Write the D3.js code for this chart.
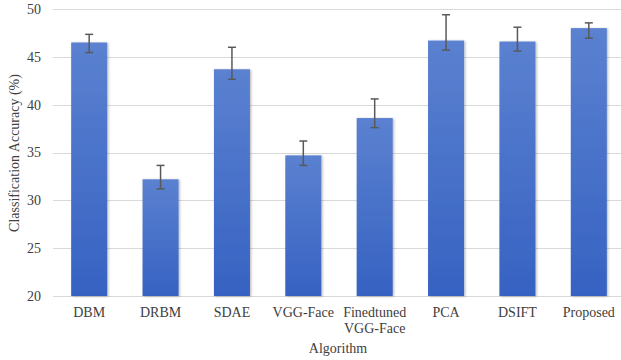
<!DOCTYPE html>
<html><head><meta charset="utf-8">
<script src="https://cdn.jsdelivr.net/npm/d3@7"></script>
<style>body{margin:0;background:#fff}svg{display:block}</style>
</head><body>
<svg id="c" width="621" height="360"></svg>
<script>
const categories = ["DBM","DRBM","SDAE","VGG-Face","Finedtuned\nVGG-Face","PCA","DSIFT","Proposed"];
const accuracy   = [46.5, 32.2, 43.7, 34.7, 38.6, 46.7, 46.6, 48.0];
const errPlus    = [0.85, 1.45, 2.3, 1.5, 2.0, 2.7, 1.5, 0.55];
const errMinus   = [1.05, 1.0, 1.05, 1.05, 1.0, 1.0, 1.0, 1.05];
const yTicks     = [20, 25, 30, 35, 40, 45, 50];
const xTitle = "Algorithm";
const yTitle = "Classification Accuracy (%)";

const svg = d3.select("#c");
const font = "'Liberation Serif', 'Times New Roman', serif";
const x = d3.scaleBand().domain(categories).range([53.5, 624.5]).paddingInner(0.495).paddingOuter(0.2475);
const y = d3.scaleLinear().domain([20, 50]).range([296, 9]);

const defs = svg.append("defs");
const g = defs.append("linearGradient").attr("id","bg").attr("x1",0).attr("y1",0).attr("x2",0).attr("y2",1);
g.append("stop").attr("offset","0%").attr("stop-color","#5b81d0");
g.append("stop").attr("offset","100%").attr("stop-color","#3662c2");
const f = defs.append("filter").attr("id","sh").attr("x","-20%").attr("y","-5%").attr("width","150%").attr("height","120%");
f.append("feDropShadow").attr("dx",1.2).attr("dy",0.5).attr("stdDeviation",1.2).attr("flood-color","#000").attr("flood-opacity",0.28);

// gridlines
svg.append("g").selectAll("line").data(yTicks).join("line")
  .attr("x1", 53).attr("x2", 621)
  .attr("y1", d => Math.round(y(d)) + 0.5).attr("y2", d => Math.round(y(d)) + 0.5)
  .attr("stroke", "#d9d9d9").attr("stroke-width", 1.2);

// y axis labels
const ya = svg.append("g").attr("transform","translate(41,0)")
  .call(d3.axisLeft(y).tickValues(yTicks).tickSize(0).tickPadding(0));
ya.select(".domain").remove();
ya.selectAll("text").attr("font-family", font).attr("font-size", 14).attr("fill","#404040");

// bars
const idx = d3.range(categories.length);
svg.append("g").selectAll("rect").data(idx).join("rect")
  .attr("x", i => x(categories[i]))
  .attr("width", x.bandwidth())
  .attr("y", i => y(accuracy[i]))
  .attr("height", i => y(20) - y(accuracy[i]))
  .attr("fill", "url(#bg)")
  .attr("filter", "url(#sh)");

// error bars
const eb = svg.append("g").attr("stroke","#595959").attr("stroke-width",1.5).attr("fill","none");
idx.forEach(i => {
  const cx = x(categories[i]) + x.bandwidth()/2;
  const t = y(accuracy[i] + errPlus[i]), b = y(accuracy[i] - errMinus[i]);
  eb.append("line").attr("x1",cx).attr("x2",cx).attr("y1",t).attr("y2",b);
  eb.append("line").attr("x1",cx-4).attr("x2",cx+4).attr("y1",t).attr("y2",t);
  eb.append("line").attr("x1",cx-4).attr("x2",cx+4).attr("y1",b).attr("y2",b);
});

// x labels
const xl = svg.append("g");
categories.forEach(c => {
  const cx = x(c) + x.bandwidth()/2;
  const t = xl.append("text").attr("text-anchor","middle").attr("font-family",font)
    .attr("font-size",14).attr("fill","#404040");
  c.split("\n").forEach((line, k) => {
    t.append("tspan").attr("x", cx).attr("y", 317 + k*16).text(line);
  });
});

svg.append("text").attr("x", 338).attr("y", 353).attr("text-anchor","middle")
  .attr("font-family",font).attr("font-size",14).attr("fill","#404040").text(xTitle);
svg.append("text").attr("transform","translate(19,153) rotate(-90)").attr("text-anchor","middle")
  .attr("font-family",font).attr("font-size",14).attr("fill","#404040").text(yTitle);
</script>
</body></html>
